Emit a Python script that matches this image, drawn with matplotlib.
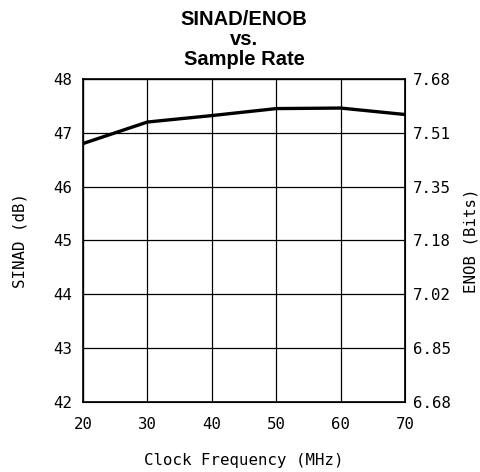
import matplotlib.pyplot as plt

# values
clock_mhz = [20, 30, 40, 50, 60, 70]
sinad_db = [46.80, 47.20, 47.32, 47.45, 47.46, 47.34]
sinad_ticks = [42, 43, 44, 45, 46, 47, 48]
enob_labels = ['6.68', '6.85', '7.02', '7.18', '7.35', '7.51', '7.68']

mono = 'DejaVu Sans Mono'
fs = 11.3

fig = plt.figure(figsize=(4.81, 4.72), dpi=100)
ax = fig.add_axes([0.1726, 0.149, 0.6694, 0.6836])

ax.plot(clock_mhz, sinad_db, color='black', linewidth=2.4, solid_capstyle='butt')
ax.set_xlim(20, 70)
ax.set_ylim(42, 48)
ax.set_xticks(clock_mhz)
ax.set_yticks(sinad_ticks)
ax.grid(True, color='black', linewidth=0.9)
ax.tick_params(axis='x', length=0, pad=11, labelsize=fs)
ax.tick_params(axis='y', length=0, pad=8, labelsize=fs)
for lab in ax.get_xticklabels() + ax.get_yticklabels():
    lab.set_fontfamily(mono)
for s in ax.spines.values():
    s.set_linewidth(1.2)

ax2 = ax.twinx()
ax2.set_ylim(42, 48)
ax2.set_yticks(sinad_ticks)
ax2.set_yticklabels(enob_labels, fontfamily=mono, fontsize=fs)
ax2.tick_params(length=0, pad=6)

ax.set_xlabel('Clock Frequency (MHz)', fontfamily=mono, fontsize=fs, labelpad=15)
ax.set_ylabel('SINAD (dB)', fontfamily=mono, fontsize=fs, labelpad=18)
ax2.set_ylabel('ENOB (Bits)', fontfamily=mono, fontsize=fs, labelpad=9)

ax.set_title('SINAD/ENOB\nvs.\nSample Rate', fontfamily='Liberation Sans',
             fontweight='bold', fontsize=14.5, linespacing=1.07, pad=10)

fig.savefig('out.png', dpi=100)
